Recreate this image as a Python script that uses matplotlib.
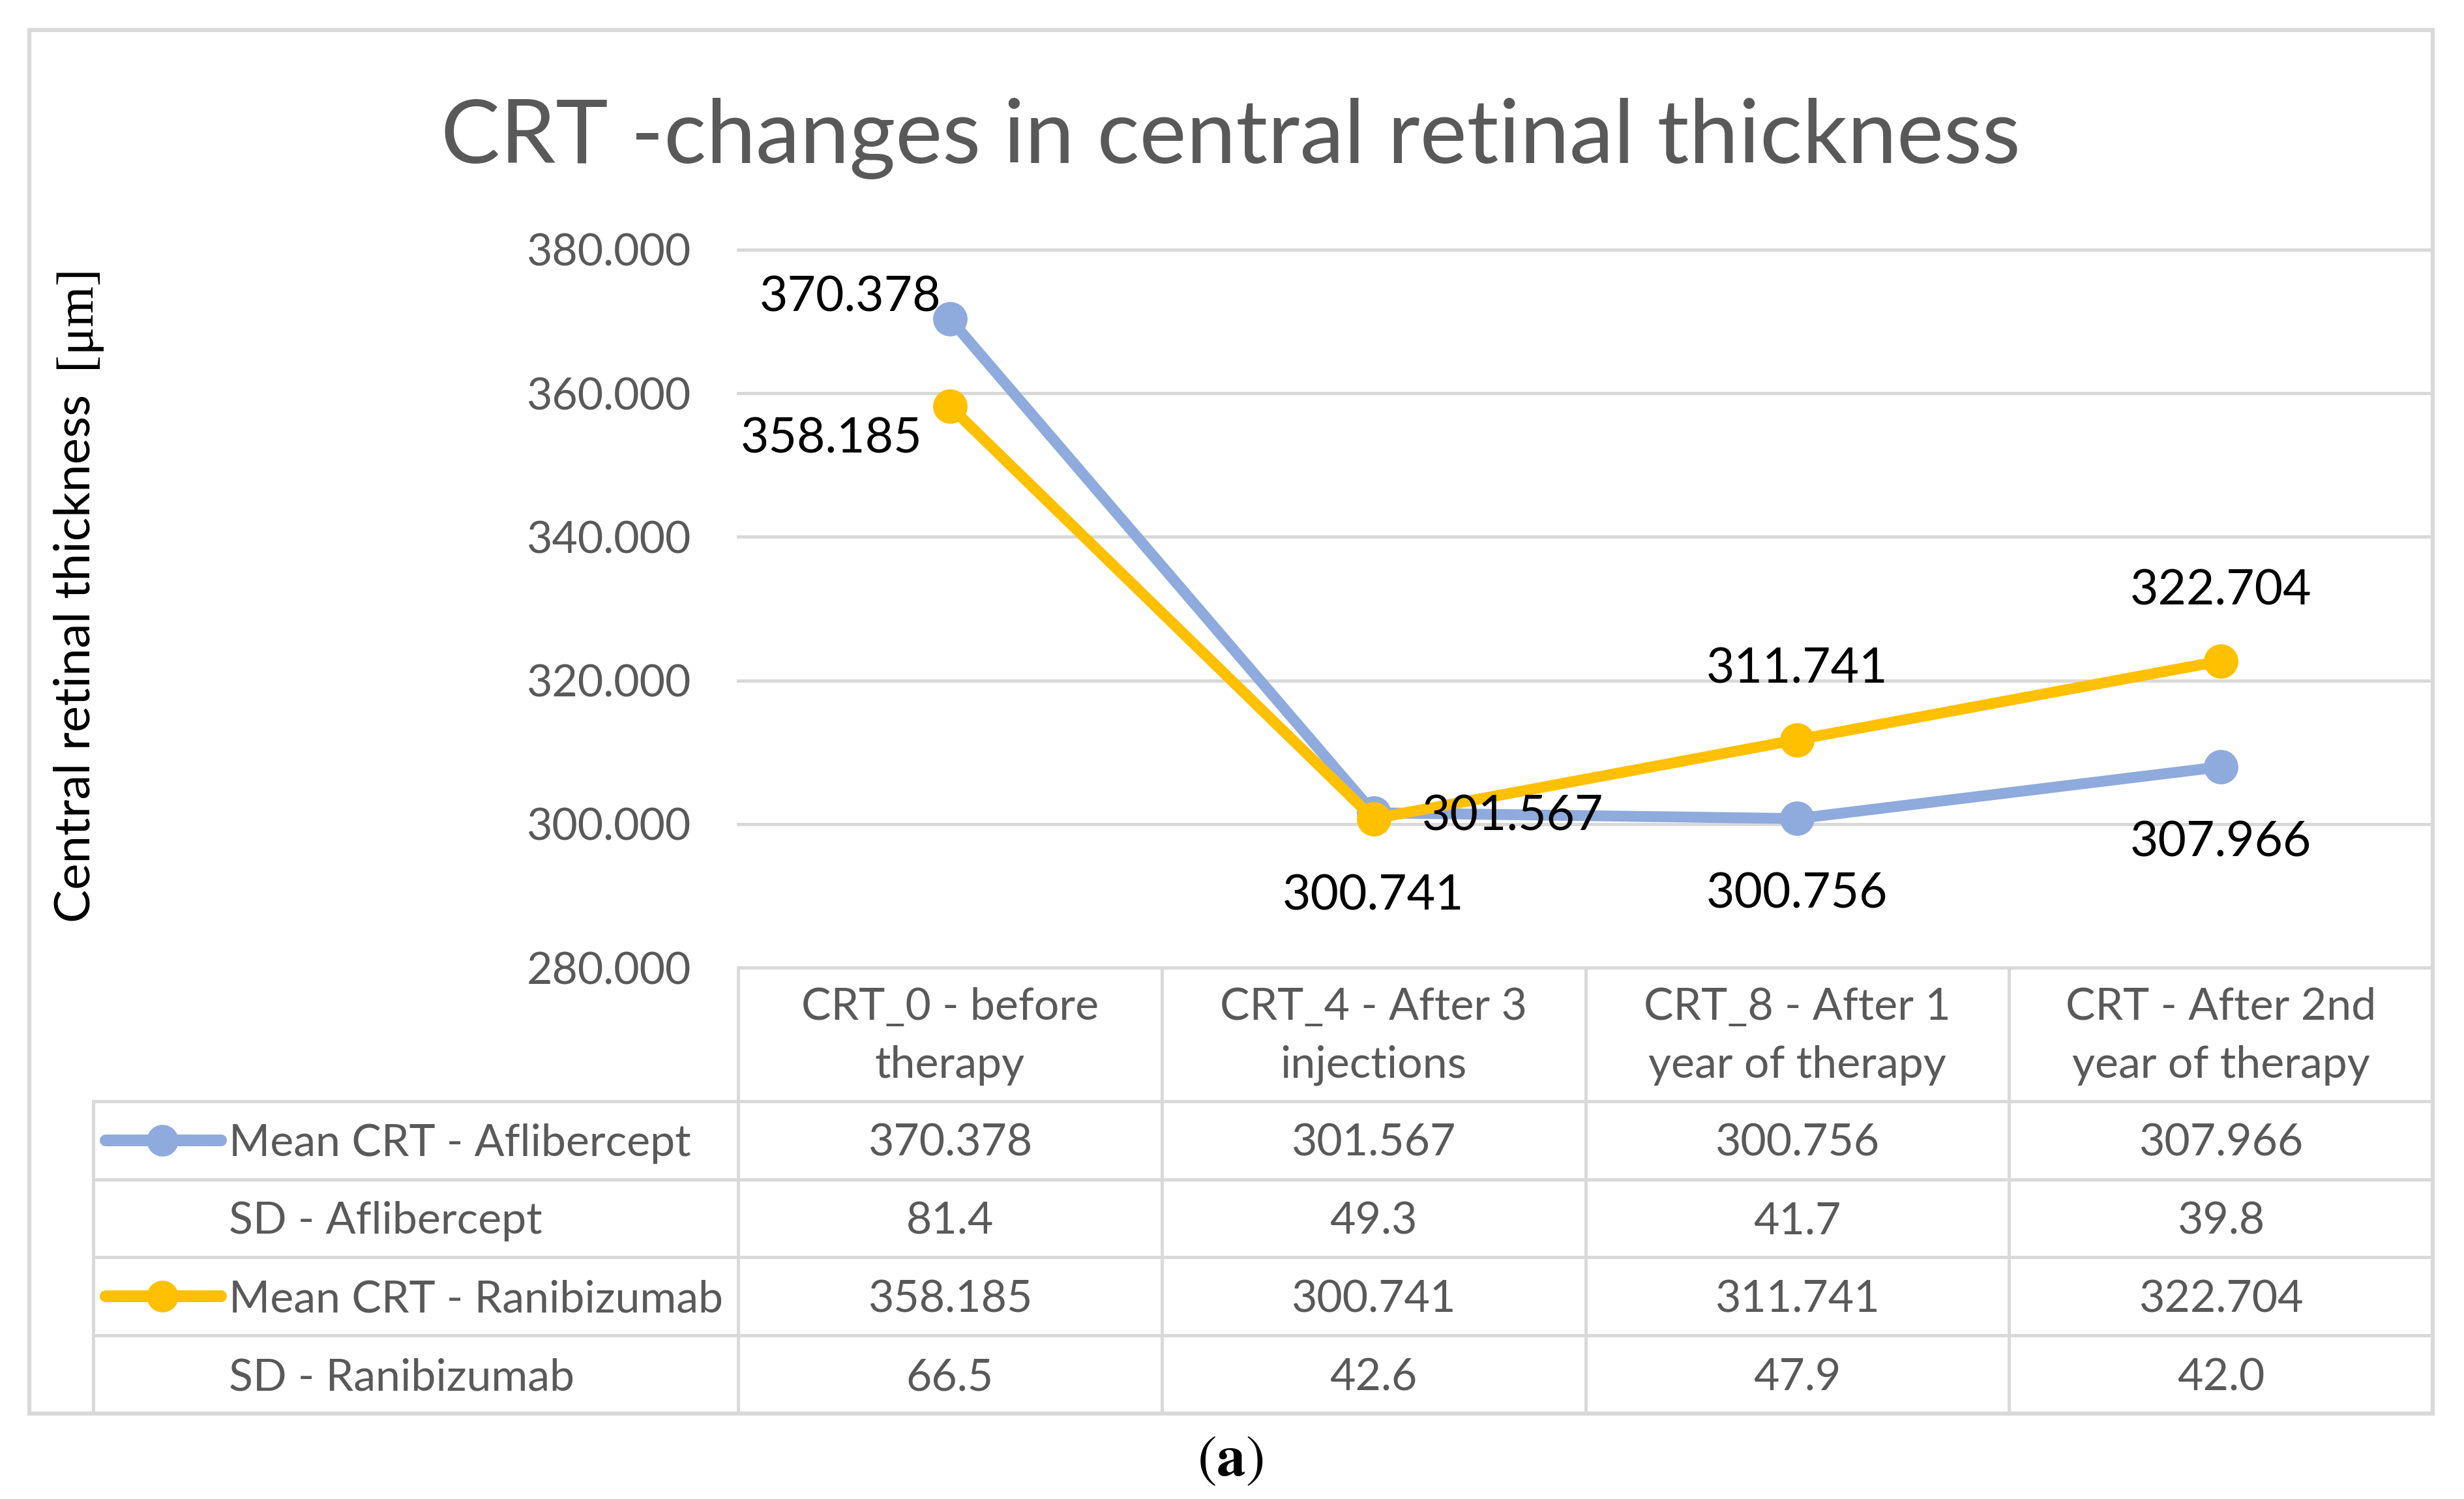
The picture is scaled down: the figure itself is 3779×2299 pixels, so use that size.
import matplotlib
matplotlib.use('Agg')
import matplotlib.pyplot as plt
from matplotlib.patches import Rectangle

plt.rcParams['font.family'] = ['Lato', 'DejaVu Sans']
plt.rcParams['mathtext.fontset'] = 'stix'

# data
categories = ['CRT_0 - before\ntherapy', 'CRT_4 - After 3\ninjections',
              'CRT_8 - After 1\nyear of therapy', 'CRT - After 2nd\nyear of therapy']
mean_aflibercept = [370.378, 301.567, 300.756, 307.966]
sd_aflibercept = [81.4, 49.3, 41.7, 39.8]
mean_ranibizumab = [358.185, 300.741, 311.741, 322.704]
sd_ranibizumab = [66.5, 42.6, 47.9, 42.0]
y_ticks = [280, 300, 320, 340, 360, 380]
row_labels = ['Mean CRT - Aflibercept', 'SD - Aflibercept',
              'Mean CRT - Ranibizumab', 'SD - Ranibizumab']

title = 'CRT -changes in central retinal thickness'
ylabel = 'Central retinal thickness'
yunit = '[\u03bcm]'

# styles
blue = '#8FAADC'
gold = '#FFC000'
grid_c = '#D9D9D9'
text_c = '#595959'

# label placement (ha, dx, dy in pixels from point, dy is label centre)
afl_lab = [('right', -13, 38), ('left', 74, 0), ('center', 0, -110), ('center', 0, -110)]
ran_lab = [('right', -42, -44), ('center', 0, -113), ('center', 0, 114), ('center', 0, 113)]

W, H = 3779, 2299
fig = plt.figure(figsize=(W / 100, H / 100), dpi=100)

# outer frame
fig.patches.append(Rectangle((45 / W, 1 - 2168 / H), (3731 - 45) / W, (2168 - 46) / H,
                             transform=fig.transFigure, fill=False, ec=grid_c, lw=4.5))

# main plot
ax = fig.add_axes([1132 / W, 1 - 1484 / H, (3731 - 1132) / W, (1484 - 383) / H])
ax.set_xlim(-0.5, 3.5)
ax.set_ylim(280, 380)
for t in y_ticks:
    ax.axhline(t, color=grid_c, lw=3.6, zorder=0, clip_on=False)
ax.set_yticks(y_ticks)
ax.set_yticklabels(['%.3f' % t for t in y_ticks])
ax.tick_params(axis='y', length=0, pad=52, labelsize=49, labelcolor=text_c)
ax.set_xticks([])
for s in ax.spines.values():
    s.set_visible(False)
ax.patch.set_visible(False)

x = list(range(len(categories)))
ax.plot(x, mean_aflibercept, color=blue, lw=12, marker='o', ms=37, clip_on=False, zorder=3)
ax.plot(x, mean_ranibizumab, color=gold, lw=12, marker='o', ms=37, clip_on=False, zorder=4)

for vals, pos in [(mean_aflibercept, afl_lab), (mean_ranibizumab, ran_lab)]:
    for i, v in enumerate(vals):
        ha, dx, dy = pos[i]
        ax.annotate('%.3f' % v, (i, v), xytext=(dx, dy - 27), textcoords='offset pixels',
                    ha=ha, va='baseline', fontsize=54, color='black', zorder=5)

# data table
tax = fig.add_axes([143 / W, 1 - 2168 / H, (3731 - 143) / W, (2168 - 1484) / H])
col_w = (3731 - 1132) / 4
x_left = -0.5 - (1132 - 143) / col_w
h0 = (1689 - 1484) / 120
tax.set_xlim(x_left, 3.5)
tax.set_ylim(h0 + 4, 0)
tax.axis('off')

for i in range(5):
    tax.plot([x_left, 3.5], [h0 + i, h0 + i], color=grid_c, lw=3.6, clip_on=False)
for j in range(5):
    tax.plot([-0.5 + j] * 2, [0, h0 + 4], color=grid_c, lw=3.6, clip_on=False)
tax.plot([x_left] * 2, [h0, h0 + 4], color=grid_c, lw=3.6, clip_on=False)

for j, cat in enumerate(categories):
    l1, l2 = cat.split('\n')
    tax.text(j, 0.667, l1, ha='center', va='baseline', fontsize=49, color=text_c)
    tax.text(j, 1.408, l2, ha='center', va='baseline', fontsize=49, color=text_c)

rows = [['%.3f' % v for v in mean_aflibercept], ['%.1f' % v for v in sd_aflibercept],
        ['%.3f' % v for v in mean_ranibizumab], ['%.1f' % v for v in sd_ranibizumab]]
keys = [blue, None, gold, None]
for i, row in enumerate(rows):
    yc = h0 + i + 0.5
    tax.text(x_left + 0.32, yc + 0.2, row_labels[i], ha='left', va='baseline',
             fontsize=49, color=text_c)
    for j, s in enumerate(row):
        tax.text(j, yc + 0.2, s, ha='center', va='baseline', fontsize=49, color=text_c)
    if keys[i]:
        tax.plot([x_left + 0.029, x_left + 0.302], [yc, yc], color=keys[i], lw=13,
                 solid_capstyle='round', clip_on=False)
        tax.plot([x_left + 0.163], [yc], 'o', ms=34, color=keys[i], clip_on=False)

# titles
fig.text(1887 / W, 1 - 250 / H, title, ha='center', va='baseline', fontsize=98, color=text_c)
yl = fig.text(137 / W, 1 - 1415 / H, ylabel, rotation=90, rotation_mode='anchor',
              ha='left', va='baseline', fontsize=55, color='black')
fig.canvas.draw()
bb = yl.get_window_extent(fig.canvas.get_renderer())
fig.text(137 / W, (bb.y1 + 40) / H, yunit, rotation=90, rotation_mode='anchor',
         ha='left', va='baseline', fontsize=58, color='black', family='Liberation Serif')

fig.text(1887 / W, 1 - 2240 / H, r'$(\mathbf{a})$', ha='center', va='center', fontsize=64)

fig.savefig('out.png', dpi=100)
